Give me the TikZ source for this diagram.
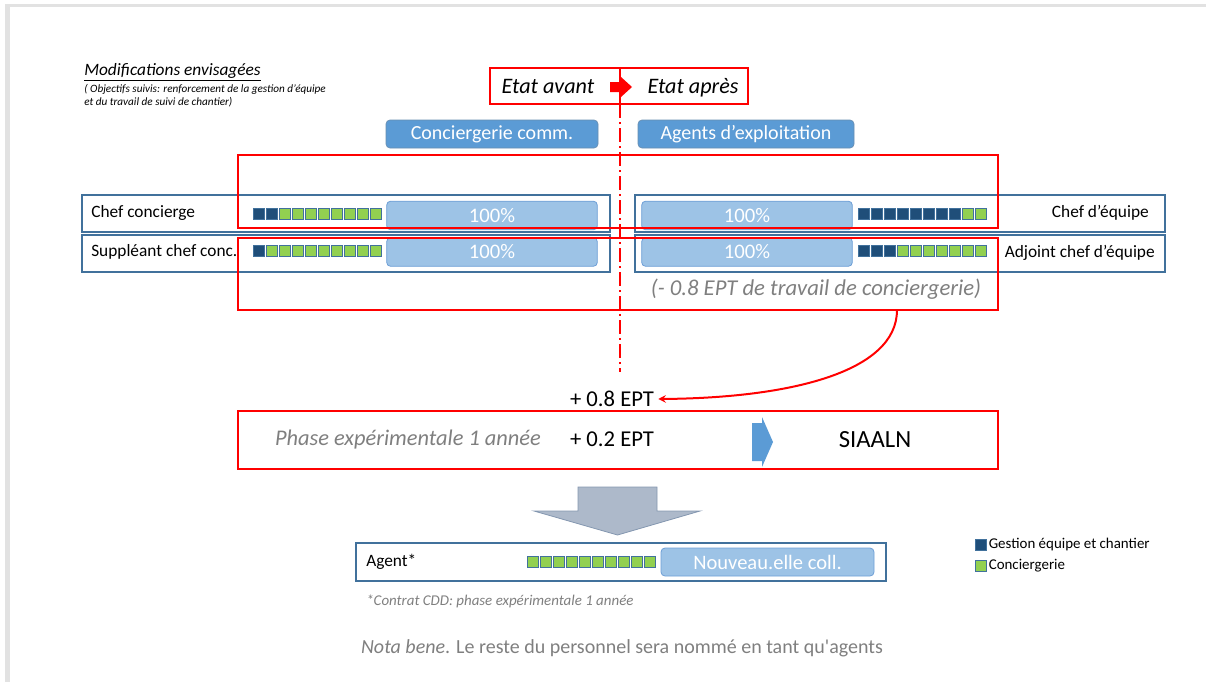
\documentclass[tikz,border=0pt]{standalone}
\usepackage{fontspec}
\setmainfont{Carlito}
\usetikzlibrary{arrows, positioning, calc}

\definecolor{slideblue}{HTML}{5B9BD5}
\definecolor{barblue}{HTML}{9DC3E6}
\definecolor{barline}{HTML}{6E9FD6}
\definecolor{boxline}{HTML}{41719C}
\definecolor{gestion}{HTML}{1F4E79}
\definecolor{concierge}{HTML}{92D050}
\definecolor{textgrey}{HTML}{7F7F7F}
\definecolor{arrowgrey}{HTML}{ADB9CA}
\definecolor{arrowline}{HTML}{8497B0}
\definecolor{slideframe}{HTML}{E2E2E2}

\begin{document}
\begin{tikzpicture}[
    x=0.75pt, y=-0.75pt,
    redframe/.style={rectangle, draw=red, line width=1.5pt, inner sep=0pt, minimum width=570pt},
    rolebox/.style={rectangle, draw=boxline, line width=1.1pt, inner sep=0pt, minimum height=27.75pt},
    header/.style={rectangle, rounded corners=3pt, fill=slideblue, draw=boxline!80, line width=0.5pt, text=white, font=\fontsize{15}{17}\selectfont, minimum height=21pt},
    bar/.style={rectangle, rounded corners=3pt, fill=barblue, draw=barline, line width=0.6pt, text=white, font=\fontsize{15.5}{17}\selectfont, minimum width=158pt, minimum height=21.5pt},
    sq/.style={rectangle, draw=boxline, line width=0.4pt, minimum size=7.9pt, inner sep=0pt},
    role/.style={font=\fontsize{13}{15}\selectfont, inner sep=0pt},
    note/.style={font=\itshape\fontsize{17}{19}\selectfont, text=textgrey, inner sep=0pt},
    plain/.style={font=\fontsize{17}{19}\selectfont, inner sep=0pt},
    arrow/.style={->, >=stealth, line width=1.5pt}
]
\useasboundingbox (0,0) rectangle (1206,682);

% Slide edge
\fill[slideframe] (5,4) rectangle (1206,7);
\fill[slideframe] (5,4) rectangle (10,682);

% Title
\node[anchor=base west, inner sep=0pt, font=\itshape\fontsize{13}{15}\selectfont] (title) at (84,75) {\underline{Modifications envisagées}};
\node[anchor=north west, align=left, inner sep=0pt, font=\itshape\fontsize{8.4}{9.75}\selectfont] (goals) at (84,84.5) {( Objectifs suivis: renforcement de la gestion d’équipe\\et du travail de suivi de chantier)};

% Before / after
\node[rectangle, draw=red, line width=1.9pt, minimum width=193.5pt, minimum height=27pt] (etat) at (619,86) {};
\node[anchor=base, inner sep=0pt, font=\itshape\fontsize{16.6}{19}\selectfont] (avant) at (548,93) {Etat avant};
\node[anchor=base, inner sep=0pt, font=\itshape\fontsize{16.6}{19}\selectfont] (apres) at (693,93) {Etat après};
\fill[red] (610,82) -- (621,82) -- (621,77) -- (632,87) -- (621,97) -- (621,92) -- (610,92) -- cycle;

\node[header, minimum width=159pt] (conc) at (492,134) {Conciergerie comm.};
\node[header, minimum width=162pt] (agents) at (746,134) {Agents d’exploitation};

% Roles
\node[rolebox, minimum width=396pt] (chefc) at (346,213.5) {};
\node[rolebox, minimum width=396pt] (suppl) at (346,253.5) {};
\node[rolebox, minimum width=397.5pt] (chefeq) at (900,213.5) {};
\node[rolebox, minimum width=397.5pt] (adjoint) at (900,253.5) {};

\node[role, anchor=west] (chefc lbl) at (91,213) {Chef concierge};
\node[role, anchor=west] (suppl lbl) at (91,252) {Suppléant chef conc.};
\node[role, anchor=east] (chefeq lbl) at (1149,213) {Chef d’équipe};
\node[role, anchor=east] (adjoint lbl) at (1155,253) {Adjoint chef d’équipe};

\node[bar] (bar cc) at (492,215.5) {100\%};
\node[bar] (bar sup) at (492,252) {100\%};
\node[bar] (bar ce) at (747,215.5) {100\%};
\node[bar] (bar adj) at (747,252) {100\%};

% Squares
\foreach \c [count=\i from 0] in {gestion,gestion,concierge,concierge,concierge,concierge,concierge,concierge,concierge,concierge}
    \node[sq, fill=\c] (cc\i) at (258.5+13*\i,214) {};
\foreach \c [count=\i from 0] in {gestion,concierge,concierge,concierge,concierge,concierge,concierge,concierge,concierge,concierge}
    \node[sq, fill=\c] (sup\i) at (258.5+13*\i,251) {};
\foreach \c [count=\i from 0] in {gestion,gestion,gestion,gestion,gestion,gestion,gestion,gestion,concierge,concierge}
    \node[sq, fill=\c] (ce\i) at (863.5+13*\i,214) {};
\foreach \c [count=\i from 0] in {gestion,gestion,gestion,concierge,concierge,concierge,concierge,concierge,concierge,concierge}
    \node[sq, fill=\c] (adj\i) at (863.5+13*\i,251) {};

% Red frames
\node[redframe, minimum height=54.75pt] (top frame) at (618,191.5) {};
\node[redframe, minimum height=54pt] (low frame) at (618,274) {};
\node[note] (minus) at (816,289) {(- 0.8 EPT de travail de conciergerie)};

% Axis
\coordinate (axis top) at (620,68);
\coordinate (axis mid) at (620,104);
\coordinate (axis end) at (620,372);
\draw[red, line width=1.5pt] (axis top) -- (axis mid);
\draw[red, line width=1.5pt, dash pattern=on 10.5pt off 3pt on 1.5pt off 3pt] (axis mid) -- (axis end);

% Transfer
\node[plain] (plus08) at (612,399) {+ 0.8 EPT};
\coordinate (curve start) at (897,310);
\draw[arrow, red] (curve start) .. controls (897,372) and (790,398) .. ([xshift=3pt]plus08.east);

\node[redframe, minimum height=43.5pt] (siaaln frame) at (618,440) {};
\node[note, font=\itshape\fontsize{16.8}{19}\selectfont] (phase) at (408,440) {Phase expérimentale 1 année};
\node[plain] (plus02) at (612,439) {+ 0.2 EPT};
\fill[slideblue] (752,423) -- (762,423) -- (762,417) -- (773,442) -- (762,467) -- (762,461) -- (752,461) -- cycle;
\node[plain, font=\fontsize{18.5}{21}\selectfont] (siaaln) at (875,440) {SIAALN};

% Result
\filldraw[fill=arrowgrey, draw=arrowline, line width=0.6pt] (578,487) -- (657,487) -- (657,511) -- (700,511) -- (617.5,535) -- (534,511) -- (578,511) -- cycle;

\node[rolebox, minimum width=397.5pt, minimum height=28.5pt] (agent box) at (621,562) {};
\node[role, anchor=west] (agent lbl) at (366,562) {Agent*};
\foreach \i in {0,...,9}
    \node[sq, fill=concierge] (ag\i) at (532.5+13*\i,562) {};
\node[bar, minimum width=159.75pt, minimum height=21pt, font=\fontsize{15.4}{17}\selectfont] (new coll) at (767.5,562) {Nouveau.elle coll.};
\node[note, anchor=west, font=\itshape\fontsize{11.2}{13}\selectfont] (cdd) at (366,601) {*Contrat CDD: phase expérimentale 1 année};

% Legend
\node[sq, fill=gestion] (leg gestion) at (981,545) {};
\node[sq, fill=concierge] (leg concierge) at (981,566) {};
\node[role, anchor=west, font=\fontsize{11.2}{13}\selectfont, right=1.5pt of leg gestion] (leg gestion lbl) {Gestion équipe et chantier};
\node[role, anchor=west, font=\fontsize{11.2}{13}\selectfont, right=1.5pt of leg concierge] (leg concierge lbl) {Conciergerie};

% Nota bene
\node[plain, text=textgrey, font=\fontsize{15}{17}\selectfont] (nb) at (622,648) {\textit{Nota bene}. Le reste du personnel sera nommé en tant qu\textquotesingle agents};

\end{tikzpicture}
\end{document}
